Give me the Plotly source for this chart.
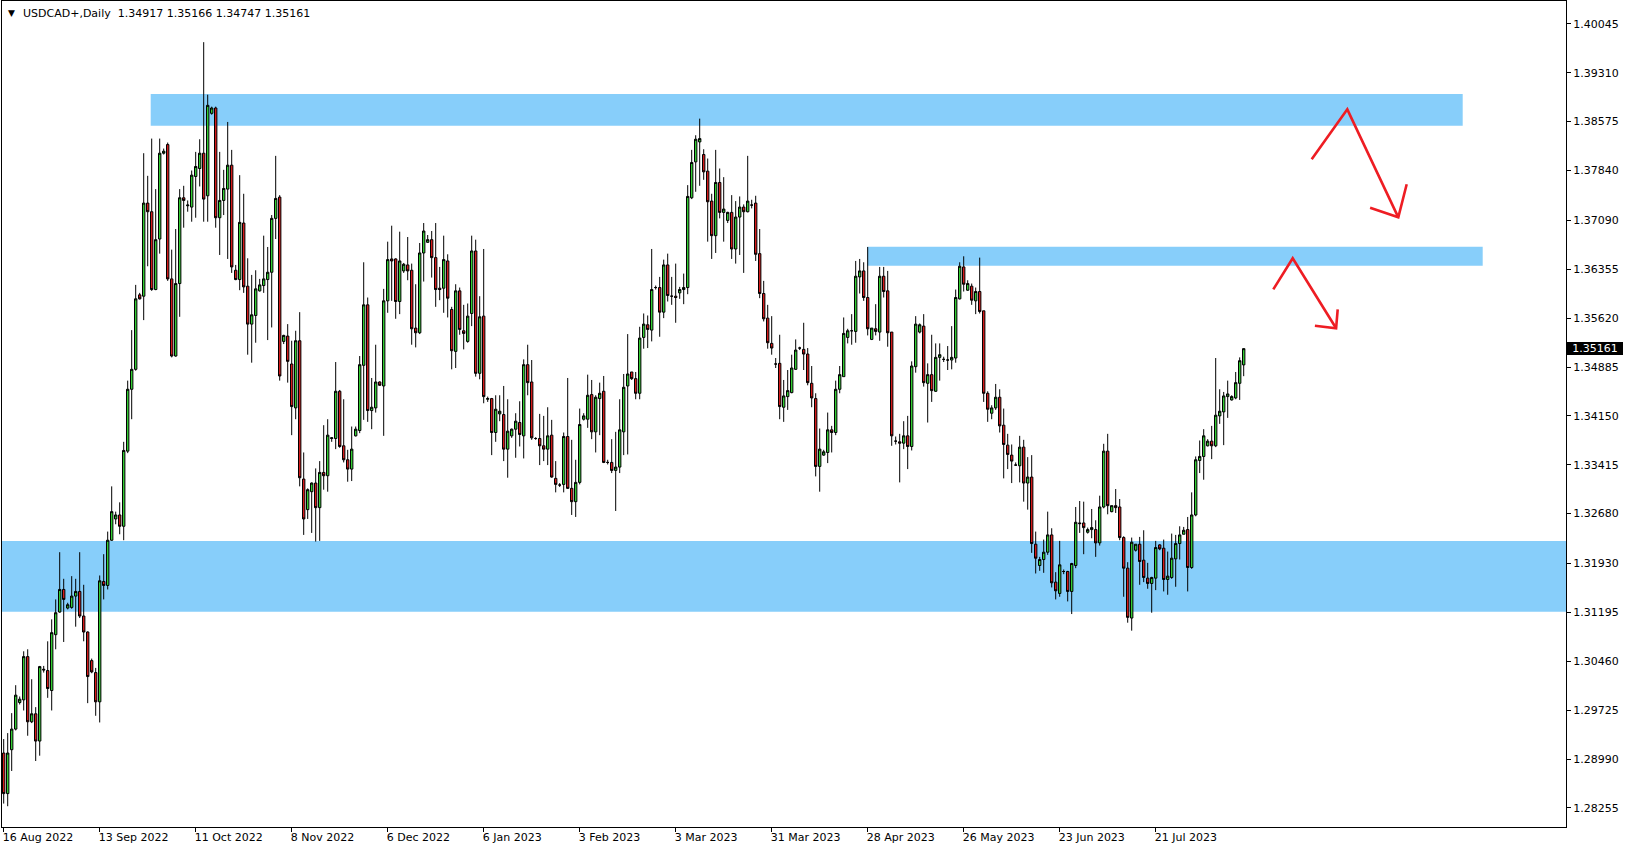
import plotly.graph_objects as go

# ---------------- data ----------------
opens = [
    1.2908, 1.2847, 1.2913, 1.2944, 1.2984, 1.2988, 1.3053, 1.2955, 1.2967, 1.2926,
    1.3034, 1.3032, 1.3002, 1.3086, 1.3120, 1.3154, 1.3126, 1.3127, 1.3144, 1.3151,
    1.3114, 1.3090, 1.3047, 1.3029, 1.2985, 1.3166, 1.3160, 1.3228, 1.3260, 1.3266,
    1.3249, 1.3362, 1.3455, 1.3485, 1.3597, 1.3595, 1.3735, 1.3722, 1.3605, 1.3681,
    1.3810, 1.3823, 1.3621, 1.3505, 1.3614, 1.3743, 1.3731, 1.3729, 1.3775, 1.3787,
    1.3810, 1.3746, 1.3870, 1.3878, 1.3713, 1.3739, 1.3756, 1.3792, 1.3634, 1.3620,
    1.3705, 1.3610, 1.3553, 1.3566, 1.3603, 1.3611, 1.3620, 1.3631, 1.3712, 1.3744,
    1.3527, 1.3535, 1.3493, 1.3427, 1.3528, 1.3320, 1.3274, 1.3301, 1.3314, 1.3277,
    1.3330, 1.3325, 1.3381, 1.3381, 1.3452, 1.3370, 1.3349, 1.3335, 1.3385, 1.3393,
    1.3491, 1.3582, 1.3423, 1.3427, 1.3466, 1.3460, 1.3588, 1.3651, 1.3651, 1.3587,
    1.3633, 1.3642, 1.3634, 1.3547, 1.3540, 1.3660, 1.3676, 1.3680, 1.3653, 1.3607,
    1.3607, 1.3648, 1.3575, 1.3512, 1.3603, 1.3543, 1.3527, 1.3569, 1.3663, 1.3479,
    1.3565, 1.3440, 1.3441, 1.3390, 1.3418, 1.3417, 1.3365, 1.3385, 1.3395, 1.3405,
    1.3385, 1.3492, 1.3466, 1.3381, 1.3381, 1.3370, 1.3365, 1.3386, 1.3321, 1.3311,
    1.3312, 1.3384, 1.3306, 1.3286, 1.3315, 1.3410, 1.3410, 1.3447, 1.3391, 1.3441,
    1.3452, 1.3345, 1.3345, 1.3333, 1.3338, 1.3391, 1.3460, 1.3481, 1.3471, 1.3449,
    1.3533, 1.3552, 1.3544, 1.3608, 1.3608, 1.3571, 1.3642, 1.3595, 1.3595, 1.3600,
    1.3605, 1.3608, 1.3743, 1.3797, 1.3827, 1.3808, 1.3783, 1.3738, 1.3686, 1.3766,
    1.3721, 1.3709, 1.3721, 1.3666, 1.3714, 1.3729, 1.3722, 1.3732, 1.3735, 1.3659,
    1.3599, 1.3562, 1.3524, 1.3493, 1.3494, 1.3428, 1.3444, 1.3450, 1.3485, 1.3517,
    1.3515, 1.3508, 1.3464, 1.3441, 1.3339, 1.3356, 1.3360, 1.3394, 1.3390, 1.3455,
    1.3474, 1.3533, 1.3543, 1.3542, 1.3624, 1.3633, 1.3593, 1.3530, 1.3546, 1.3541,
    1.3625, 1.3603, 1.3541, 1.3377, 1.3376, 1.3374, 1.3385, 1.3369, 1.3489, 1.3541,
    1.3550, 1.3464, 1.3477, 1.3452, 1.3503, 1.3500, 1.3499, 1.3499, 1.3502, 1.3591,
    1.3639, 1.3604, 1.3610, 1.3588, 1.3602, 1.3573, 1.3449, 1.3419, 1.3427, 1.3443,
    1.3401, 1.3371, 1.3356, 1.3341, 1.3340, 1.3368, 1.3314, 1.3323, 1.3222, 1.3190,
    1.3199, 1.3210, 1.3236, 1.3165, 1.3148, 1.3181, 1.3181, 1.3151, 1.3190, 1.3254,
    1.3254, 1.3240, 1.3244, 1.3244, 1.3224, 1.3278, 1.3362, 1.3271, 1.3280, 1.3278,
    1.3232, 1.3186, 1.3111, 1.3213, 1.3222, 1.3198, 1.3171, 1.3163, 1.3171, 1.3221,
    1.3216, 1.3169, 1.3172, 1.3200, 1.3223, 1.3237, 1.3244, 1.3187, 1.3266, 1.3348,
    1.3354, 1.3370, 1.3377, 1.3370, 1.3415, 1.3421, 1.3444, 1.3439, 1.3442, 1.3464,
    1.34917,
]
highs = [
    1.2929, 1.2938, 1.2968, 1.3010, 1.2993, 1.3061, 1.3064, 1.3019, 1.2977, 1.3039,
    1.3039, 1.3076, 1.3109, 1.3139, 1.3210, 1.3170, 1.3134, 1.3174, 1.3170, 1.3210,
    1.3161, 1.3091, 1.3050, 1.3036, 1.3175, 1.3207, 1.3241, 1.3309, 1.3271, 1.3285,
    1.3376, 1.3468, 1.3544, 1.3612, 1.3600, 1.3810, 1.3776, 1.3832, 1.3756, 1.3832,
    1.3817, 1.3826, 1.3665, 1.3696, 1.3756, 1.3761, 1.3739, 1.3784, 1.3812, 1.3831,
    1.3977, 1.3898, 1.3880, 1.3880, 1.3812, 1.3785, 1.3857, 1.3815, 1.3642, 1.3777,
    1.3749, 1.3652, 1.3627, 1.3634, 1.3621, 1.3686, 1.3669, 1.3717, 1.3806, 1.3747,
    1.3537, 1.3553, 1.3528, 1.3543, 1.3571, 1.3360, 1.3306, 1.3315, 1.3336, 1.3347,
    1.3401, 1.3410, 1.3383, 1.3496, 1.3454, 1.3440, 1.3364, 1.3399, 1.3399, 1.3505,
    1.3646, 1.3593, 1.3472, 1.3522, 1.3467, 1.3606, 1.3677, 1.3701, 1.3652, 1.3692,
    1.3645, 1.3684, 1.3644, 1.3613, 1.3675, 1.3705, 1.3687, 1.3693, 1.3705, 1.3639,
    1.3686, 1.3658, 1.3579, 1.3613, 1.3608, 1.3582, 1.3584, 1.3686, 1.3680, 1.3595,
    1.3666, 1.3444, 1.3442, 1.3446, 1.3446, 1.3460, 1.3440, 1.3396, 1.3419, 1.3437,
    1.3500, 1.3522, 1.3499, 1.3383, 1.3418, 1.3415, 1.3428, 1.3409, 1.3347, 1.3314,
    1.3390, 1.3472, 1.3379, 1.3349, 1.3426, 1.3419, 1.3477, 1.3469, 1.3446, 1.3465,
    1.3475, 1.3349, 1.3380, 1.3391, 1.3440, 1.3478, 1.3538, 1.3481, 1.3481, 1.3549,
    1.3569, 1.3566, 1.3666, 1.3611, 1.3624, 1.3650, 1.3659, 1.3624, 1.3644, 1.3609,
    1.3629, 1.3762, 1.3815, 1.3837, 1.3862, 1.3816, 1.3802, 1.3749, 1.3815, 1.3787,
    1.3774, 1.3722, 1.3747, 1.3738, 1.3745, 1.3733, 1.3806, 1.3740, 1.3746, 1.3696,
    1.3618, 1.3582, 1.3565, 1.3502, 1.3537, 1.3469, 1.3484, 1.3507, 1.3530, 1.3519,
    1.3555, 1.3517, 1.3490, 1.3449, 1.3396, 1.3364, 1.3420, 1.3400, 1.3468, 1.3490,
    1.3563, 1.3546, 1.3568, 1.3648, 1.3651, 1.3646, 1.3669, 1.3547, 1.3583, 1.3639,
    1.3639, 1.3633, 1.3541, 1.3384, 1.3388, 1.3407, 1.3415, 1.3497, 1.3565, 1.3554,
    1.3568, 1.3494, 1.3537, 1.3524, 1.3524, 1.3504, 1.3520, 1.3550, 1.3605, 1.3646,
    1.3655, 1.3619, 1.3614, 1.3608, 1.3653, 1.3573, 1.3452, 1.3431, 1.3463, 1.3455,
    1.3426, 1.3388, 1.3372, 1.3345, 1.3385, 1.3379, 1.3353, 1.3356, 1.3241, 1.3203,
    1.3229, 1.3271, 1.3246, 1.3180, 1.3227, 1.3184, 1.3182, 1.3194, 1.3278, 1.3287,
    1.3286, 1.3247, 1.3275, 1.3258, 1.3295, 1.3373, 1.3388, 1.3280, 1.3305, 1.3290,
    1.3234, 1.3195, 1.3232, 1.3222, 1.3233, 1.3243, 1.3194, 1.3173, 1.3227, 1.3222,
    1.3229, 1.3211, 1.3238, 1.3236, 1.3249, 1.3248, 1.3263, 1.3300, 1.3354, 1.3378,
    1.3395, 1.3380, 1.3400, 1.3502, 1.3455, 1.3451, 1.3468, 1.3446, 1.3481, 1.3503,
    1.35166,
]
lows = [
    1.2832, 1.2828, 1.2881, 1.2942, 1.2981, 1.2972, 1.2934, 1.2953, 1.2896, 1.2904,
    1.3029, 1.2991, 1.2972, 1.3064, 1.3119, 1.3075, 1.3124, 1.3125, 1.3098, 1.3111,
    1.3076, 1.2983, 1.3028, 1.2964, 1.2954, 1.3139, 1.3154, 1.3227, 1.3252, 1.3237,
    1.3228, 1.3359, 1.3410, 1.3483, 1.3590, 1.3559, 1.3640, 1.3603, 1.3604, 1.3659,
    1.3808, 1.3618, 1.3503, 1.3504, 1.3564, 1.3698, 1.3722, 1.3707, 1.3713, 1.3760,
    1.3707, 1.3707, 1.3868, 1.3698, 1.3657, 1.3717, 1.3651, 1.3630, 1.3619, 1.3604,
    1.3600, 1.3507, 1.3495, 1.3525, 1.3602, 1.3600, 1.3529, 1.3548, 1.3681, 1.3468,
    1.3523, 1.3465, 1.3386, 1.3410, 1.3309, 1.3236, 1.3260, 1.3239, 1.3226, 1.3227,
    1.3304, 1.3301, 1.3376, 1.3365, 1.3367, 1.3345, 1.3316, 1.3317, 1.3384, 1.3389,
    1.3409, 1.3406, 1.3395, 1.3420, 1.3460, 1.3385, 1.3570, 1.3588, 1.3561, 1.3568,
    1.3630, 1.3619, 1.3522, 1.3518, 1.3538, 1.3617, 1.3675, 1.3623, 1.3579, 1.3589,
    1.3570, 1.3563, 1.3485, 1.3487, 1.3537, 1.3515, 1.3525, 1.3550, 1.3474, 1.3470,
    1.3434, 1.3436, 1.3356, 1.3376, 1.3407, 1.3347, 1.3322, 1.3382, 1.3352, 1.3369,
    1.3351, 1.3446, 1.3379, 1.3379, 1.3341, 1.3347, 1.3341, 1.3322, 1.3300, 1.3308,
    1.3300, 1.3305, 1.3266, 1.3263, 1.3312, 1.3408, 1.3397, 1.3380, 1.3360, 1.3386,
    1.3344, 1.3342, 1.3329, 1.3272, 1.3329, 1.3356, 1.3357, 1.3469, 1.3440, 1.3440,
    1.3516, 1.3517, 1.3527, 1.3605, 1.3534, 1.3562, 1.3587, 1.3582, 1.3555, 1.3591,
    1.3583, 1.3598, 1.3741, 1.3752, 1.3761, 1.3770, 1.3677, 1.3651, 1.3660, 1.3712,
    1.3677, 1.3705, 1.3651, 1.3644, 1.3657, 1.3630, 1.3721, 1.3727, 1.3648, 1.3592,
    1.3557, 1.3516, 1.3507, 1.3487, 1.3410, 1.3406, 1.3424, 1.3449, 1.3484, 1.3514,
    1.3484, 1.3461, 1.3428, 1.3324, 1.3301, 1.3355, 1.3344, 1.3360, 1.3386, 1.3449,
    1.3474, 1.3524, 1.3522, 1.3525, 1.3599, 1.3588, 1.3536, 1.3529, 1.3536, 1.3528,
    1.3593, 1.3519, 1.3370, 1.3372, 1.3315, 1.3365, 1.3335, 1.3363, 1.3480, 1.3539,
    1.3459, 1.3405, 1.3436, 1.3451, 1.3468, 1.3496, 1.3484, 1.3485, 1.3495, 1.3590,
    1.3602, 1.3603, 1.3582, 1.3568, 1.3569, 1.3436, 1.3406, 1.3410, 1.3424, 1.3390,
    1.3321, 1.3335, 1.3314, 1.3340, 1.3315, 1.3286, 1.3274, 1.3209, 1.3178, 1.3182,
    1.3179, 1.3206, 1.3157, 1.3139, 1.3143, 1.3177, 1.3136, 1.3117, 1.3186, 1.3239,
    1.3207, 1.3238, 1.3231, 1.3203, 1.3220, 1.3276, 1.3267, 1.3270, 1.3269, 1.3228,
    1.3143, 1.3104, 1.3092, 1.3211, 1.3161, 1.3165, 1.3155, 1.3119, 1.3153, 1.3213,
    1.3151, 1.3146, 1.3170, 1.3158, 1.3199, 1.3237, 1.3151, 1.3185, 1.3264, 1.3329,
    1.3319, 1.3369, 1.3350, 1.3368, 1.3403, 1.3371, 1.3412, 1.3438, 1.3440, 1.3439,
    1.34747,
]
closes = [
    1.2847, 1.2908, 1.2944, 1.2995, 1.2989, 1.3053, 1.2955, 1.2967, 1.2926, 1.3038,
    1.3033, 1.3005, 1.3089, 1.3119, 1.3154, 1.3139, 1.3131, 1.3144, 1.3151, 1.3114,
    1.3090, 1.3023, 1.3030, 1.2985, 1.3167, 1.3160, 1.3228, 1.3271, 1.3266, 1.3249,
    1.3363, 1.3455, 1.3485, 1.3591, 1.3591, 1.3735, 1.3722, 1.3605, 1.3680, 1.3810,
    1.3813, 1.3621, 1.3505, 1.3614, 1.3743, 1.3739, 1.3732, 1.3777, 1.3790, 1.3810,
    1.3741, 1.3882, 1.3878, 1.3713, 1.3739, 1.3757, 1.3792, 1.3639, 1.3620, 1.3706,
    1.3609, 1.3553, 1.3567, 1.3606, 1.3612, 1.3621, 1.3631, 1.3712, 1.3742, 1.3475,
    1.3536, 1.3497, 1.3429, 1.3528, 1.3322, 1.3260, 1.3304, 1.3314, 1.3277, 1.3330,
    1.3325, 1.3386, 1.3382, 1.3452, 1.3369, 1.3349, 1.3335, 1.3365, 1.3395, 1.3492,
    1.3582, 1.3423, 1.3428, 1.3466, 1.3461, 1.3588, 1.3650, 1.3648, 1.3587, 1.3648,
    1.3643, 1.3633, 1.3546, 1.3540, 1.3660, 1.3693, 1.3680, 1.3653, 1.3605, 1.3605,
    1.3650, 1.3592, 1.3513, 1.3603, 1.3545, 1.3539, 1.3565, 1.3663, 1.3479, 1.3564,
    1.3444, 1.3441, 1.3390, 1.3425, 1.3422, 1.3365, 1.3392, 1.3395, 1.3407, 1.3387,
    1.3492, 1.3465, 1.3382, 1.3381, 1.3370, 1.3365, 1.3385, 1.3323, 1.3312, 1.3311,
    1.3384, 1.3306, 1.3286, 1.3315, 1.3402, 1.3415, 1.3446, 1.3391, 1.3443, 1.3449,
    1.3345, 1.3345, 1.3333, 1.3338, 1.3394, 1.3458, 1.3478, 1.3471, 1.3449, 1.3532,
    1.3553, 1.3545, 1.3605, 1.3608, 1.3571, 1.3642, 1.3596, 1.3595, 1.3593, 1.3605,
    1.3608, 1.3745, 1.3796, 1.3831, 1.3832, 1.3782, 1.3737, 1.3686, 1.3766, 1.3721,
    1.3726, 1.3721, 1.3666, 1.3714, 1.3729, 1.3722, 1.3738, 1.3732, 1.3658, 1.3599,
    1.3561, 1.3525, 1.3517, 1.3493, 1.3429, 1.3445, 1.3453, 1.3487, 1.3514, 1.3517,
    1.3508, 1.3465, 1.3442, 1.3339, 1.3365, 1.3361, 1.3394, 1.3390, 1.3455, 1.3477,
    1.3539, 1.3543, 1.3543, 1.3625, 1.3633, 1.3593, 1.3546, 1.3547, 1.3542, 1.3625,
    1.3602, 1.3540, 1.3385, 1.3377, 1.3374, 1.3385, 1.3369, 1.3490, 1.3553, 1.3552,
    1.3465, 1.3477, 1.3453, 1.3503, 1.3507, 1.3500, 1.3499, 1.3503, 1.3593, 1.3640,
    1.3613, 1.3614, 1.3589, 1.3602, 1.3572, 1.3449, 1.3425, 1.3427, 1.3443, 1.3400,
    1.3372, 1.3357, 1.3347, 1.3341, 1.3368, 1.3314, 1.3323, 1.3223, 1.3201, 1.3199,
    1.3210, 1.3236, 1.3164, 1.3152, 1.3191, 1.3181, 1.3151, 1.3193, 1.3255, 1.3253,
    1.3247, 1.3244, 1.3247, 1.3224, 1.3278, 1.3362, 1.3280, 1.3280, 1.3277, 1.3232,
    1.3186, 1.3112, 1.3225, 1.3222, 1.3196, 1.3172, 1.3163, 1.3172, 1.3217, 1.3215,
    1.3169, 1.3174, 1.3201, 1.3223, 1.3236, 1.3243, 1.3187, 1.3266, 1.3349, 1.3354,
    1.3385, 1.3377, 1.3370, 1.3416, 1.3422, 1.3445, 1.3448, 1.3444, 1.3465, 1.3498,
    1.35161,
]

date_labels = ["16 Aug 2022", "13 Sep 2022", "11 Oct 2022", "8 Nov 2022", "6 Dec 2022",
               "6 Jan 2023", "3 Feb 2023", "3 Mar 2023", "31 Mar 2023", "28 Apr 2023",
               "26 May 2023", "23 Jun 2023", "21 Jul 2023"]
bars_between_labels = 24

price_labels = ["1.40045", "1.39310", "1.38575", "1.37840", "1.37090", "1.36355",
                "1.35620", "1.34885", "1.34150", "1.33415", "1.32680", "1.31930",
                "1.31195", "1.30460", "1.29725", "1.28990", "1.28255"]

symbol_title = "USDCAD+,Daily"

# hand-drawn zones (bar index / price)
zone_top = dict(x0=36.75, x1=364.75, y0=1.38514, y1=1.38991)
zone_mid = dict(x0=215.9, x1=369.75, y0=1.36409, y1=1.36695)
zone_low = dict(y0=1.31206, y1=1.32269)

# hand-drawn red arrows (bar index / price)
arrow1_x = [327.0, 335.9, 348.65]
arrow1_y = [1.38008, 1.38760, 1.37136]
arrow1_head_x = [341.6, 348.65, 350.75]
arrow1_head_y = [1.37281, 1.37136, 1.37633]
arrow2_x = [317.4, 322.25, 333.1]
arrow2_y = [1.36053, 1.36520, 1.35467]
arrow2_head_x = [327.8, 333.1, 333.5]
arrow2_head_y = [1.35506, 1.35467, 1.35753]

# ---------------- styling ----------------
GREEN = "#32CD32"
RED = "#D41A1A"
ZONE = "#87CEFA"
ARROW = "#EE1D23"
FONT = "DejaVu Sans"

W, H = 1629, 850
ML, MR, MT, MB = 2, 63, 1, 23
PX_PER_BAR = 4.0
PRICE_PER_PX = 0.00015038
y_top = 1.40389
y_bottom = y_top - (H - MT - MB) * PRICE_PER_PX
x_left = -0.425
x_right = x_left + (W - ML - MR) / PX_PER_BAR

fig = go.Figure()

xs = list(range(len(opens)))
fig.add_trace(go.Candlestick(
    x=xs, open=opens, high=highs, low=lows, close=closes,
    increasing=dict(line=dict(color="black", width=1), fillcolor=GREEN),
    decreasing=dict(line=dict(color="black", width=1), fillcolor=RED),
    whiskerwidth=0, hoverinfo="skip", showlegend=False,
))

for ax, ay in [(arrow1_x, arrow1_y), (arrow1_head_x, arrow1_head_y),
               (arrow2_x, arrow2_y), (arrow2_head_x, arrow2_head_y)]:
    fig.add_trace(go.Scatter(x=ax, y=ay, mode="lines",
                             line=dict(color=ARROW, width=2.6),
                             hoverinfo="skip", showlegend=False))

shapes = [
    dict(type="rect", xref="x", yref="y", layer="below", line=dict(width=0),
         fillcolor=ZONE, **zone_top),
    dict(type="rect", xref="x", yref="y", layer="below", line=dict(width=0),
         fillcolor=ZONE, **zone_mid),
    dict(type="rect", xref="paper", yref="y", layer="below", line=dict(width=0),
         fillcolor=ZONE, x0=0, x1=1, **zone_low),
]

annotations = [
    dict(xref="paper", yref="paper", x=0, y=1, xanchor="left", yanchor="middle",
         xshift=5, yshift=-12, text="\u25BC", showarrow=False, borderpad=0,
         font=dict(family=FONT, size=9, color="black")),
    dict(xref="paper", yref="paper", x=0, y=1, xanchor="left", yanchor="middle",
         xshift=19.5, yshift=-12, showarrow=False, borderpad=0,
         text=symbol_title + "\u00a0\u00a0" + " ".join(
             f"{v:.5f}" for v in (opens[-1], highs[-1], lows[-1], closes[-1])),
         font=dict(family=FONT, size=11, color="black")),
    dict(xref="paper", yref="y", x=1, y=closes[-1], xanchor="left", yanchor="middle",
         xshift=1, showarrow=False, text=f"{closes[-1]:.5f}", bgcolor="black",
         borderpad=1, borderwidth=0, width=54, height=11,
         font=dict(family=FONT, size=11, color="white")),
]

fig.update_layout(
    width=W, height=H,
    margin=dict(l=ML, r=MR, t=MT, b=MB, pad=0),
    paper_bgcolor="white", plot_bgcolor="white",
    font=dict(family=FONT, size=11, color="black"),
    boxgap=0.3, boxgroupgap=0.15,
    showlegend=False,
    shapes=shapes, annotations=annotations,
    hovermode=False,
    xaxis=dict(
        range=[x_left, x_right],
        tickvals=[i * bars_between_labels for i in range(len(date_labels))],
        ticktext=date_labels,
        ticks="outside", ticklen=4, tickwidth=1, tickcolor="black",
        ticklabelposition="outside right", ticklabelshift=-2,
        showgrid=False, zeroline=False,
        showline=True, linecolor="black", linewidth=1, mirror=True,
        rangeslider=dict(visible=False), fixedrange=True,
        tickfont=dict(family=FONT, size=11, color="black"),
    ),
    yaxis=dict(
        side="right",
        range=[y_bottom, y_top],
        tickvals=[float(s) for s in price_labels],
        ticktext=price_labels,
        ticks="outside", ticklen=4, tickwidth=1, tickcolor="black",
        showgrid=False, zeroline=False,
        showline=True, linecolor="black", linewidth=1, mirror=True,
        fixedrange=True,
        tickfont=dict(family=FONT, size=11, color="black"),
    ),
)

fig.write_html("out.html", config={"displayModeBar": False},
               post_script="document.body.style.margin='0';document.body.style.overflow='hidden';")
